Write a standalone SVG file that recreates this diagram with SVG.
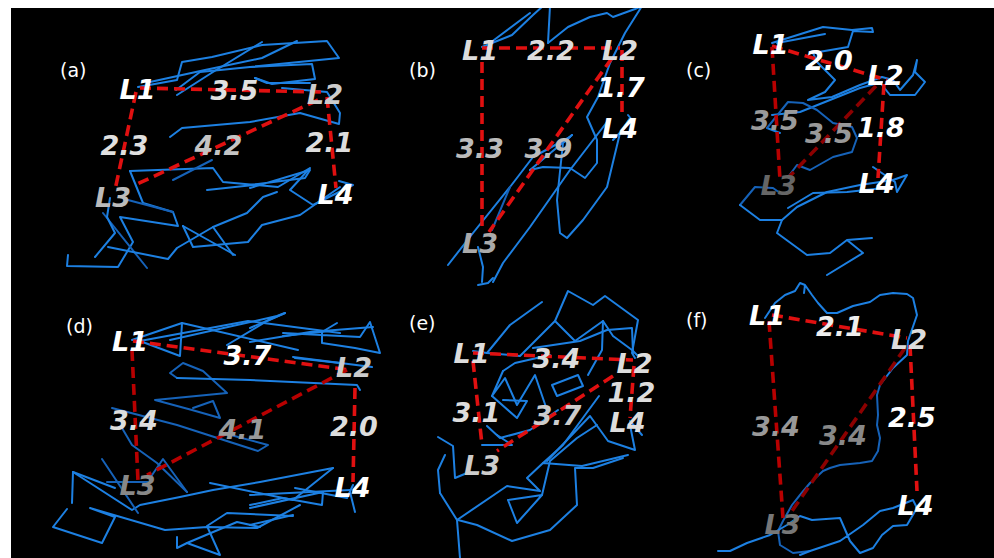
<svg xmlns="http://www.w3.org/2000/svg" width="994" height="558" viewBox="0 0 994 558">
<style>
.tr{fill:none;stroke:#1d80e2;stroke-width:2;stroke-linejoin:round;stroke-linecap:round}
.dk{stroke:#1662b8}
.dist{fill:none;stroke:#e01010;stroke-width:3.6;stroke-dasharray:11 6}
.d2{stroke:#b80000}
.d3{stroke:#8c0000}
.lab{font-family:"DejaVu Sans","Liberation Sans",sans-serif;font-weight:bold;font-style:italic;font-size:27px;text-anchor:middle}
.pl{font-family:"DejaVu Sans","Liberation Sans",sans-serif;font-size:19px;fill:#ffffff}
</style>
<rect x="0" y="0" width="994" height="558" fill="#000000"/>

<!-- Panel (a) -->
<g id="panel-a">
<text class="pl" x="60" y="77">(a)</text>
<g id="a-trace">
<polyline class="tr" points="138,87 177,80 182,62 212,57 262,45 327,41 339,58 250,67 200,72 176,90"/>
<polyline class="tr" points="177,95 213,72 262,42"/>
<polyline class="tr" points="150,82 205,70 262,58 297,41"/>
<polyline class="tr" points="255,78 272,84 315,79 312,64 250,67"/>
<polyline class="tr" points="170,137 182,128 250,122 300,113 339,124 340,113 327,92 282,88"/>
<polyline class="tr" points="255,78 267,83 310,83"/>
<polyline class="tr" points="130,171 143,203 173,212 178,226 120,217 133,242 118,267 67,266 68,255"/>
<polyline class="tr" points="130,171 213,168 223,182 278,187 310,168 290,190 313,205 353,185 339,181"/>
<polyline class="tr dk" points="173,180 212,160"/>
<polyline class="tr" points="183,226 193,247 248,242 262,225 300,215 340,187"/>
<polyline class="tr" points="183,226 235,255"/>
<polyline class="tr dk" points="103,213 147,268"/>
<polyline class="tr" points="110,198 107,217 115,233 95,257"/>
<polyline class="tr" points="108,247 168,259 177,248 213,227 247,213 263,197 277,192"/>
<polyline class="tr dk" points="128,200 173,212"/>
<polyline class="tr" points="207,190 262,184"/>
<polyline class="tr" points="250,188 310,170 305,178 250,185"/>
<polyline class="tr" points="233,255 213,227"/>
</g>
<g id="a-distances">
<line class="dist" x1="140" y1="88" x2="322" y2="92"/>
<line class="dist" x1="136" y1="92" x2="115" y2="190"/>
<line class="dist" x1="318" y1="100" x2="133" y2="186"/>
<line class="dist" x1="327" y1="97" x2="336" y2="188"/>
</g>
<g id="a-labels">
<text class="lab" x="137.5" y="99" fill="#ffffff">L1</text>
<text class="lab" x="234.5" y="100" fill="#e0e0e0">3.5</text>
<text class="lab" x="325" y="104" fill="#cccccc">L2</text>
<text class="lab" x="124.5" y="155" fill="#e0e0e0">2.3</text>
<text class="lab" x="218.5" y="155" fill="#c4c4c4">4.2</text>
<text class="lab" x="329.5" y="152" fill="#dddddd">2.1</text>
<text class="lab" x="113" y="207" fill="#bbbbbb">L3</text>
<text class="lab" x="335.5" y="204" fill="#ffffff">L4</text>
</g>
</g>

<!-- Panel (b) -->
<g id="panel-b">
<text class="pl" x="409" y="77">(b)</text>
<g id="b-trace">
<polyline class="tr" points="482,47 512,35 533,15 543,6"/>
<polyline class="tr" points="490,43 530,13"/>
<polyline class="tr" points="548,43 550,6"/>
<polyline class="tr" points="548,43 568,27 590,17 607,13 613,17 635,9 642,6 625,33 610,63 598,97 587,117 597,140 597,163 585,178 570,168 543,167 530,170"/>
<polyline class="tr" points="572,135 530,170"/>
<polyline class="tr" points="572,135 563,143 557,200 560,233 567,238 583,220 607,187 620,133 630,118"/>
<polyline class="tr" points="448,265 473,233 510,187 533,157 570,137"/>
<polyline class="tr dk" points="492,230 510,187"/>
<polyline class="tr" points="607,122 570,170 530,227 503,263 493,282"/>
<polyline class="tr" points="478,247 483,267 482,282"/>
<polyline class="tr" points="628,115 632,120 613,140"/>
</g>
<g id="b-distances">
<line class="dist" x1="482" y1="48" x2="620" y2="48"/>
<line class="dist" x1="482" y1="62" x2="482" y2="232"/>
<line class="dist" x1="612" y1="58" x2="489" y2="232"/>
<line class="dist" x1="622" y1="50" x2="622" y2="118"/>
</g>
<g id="b-labels">
<text class="lab" x="480" y="60" fill="#dddddd">L1</text>
<text class="lab" x="551" y="60" fill="#dddddd">2.2</text>
<text class="lab" x="620" y="60" fill="#dddddd">L2</text>
<text class="lab" x="621" y="97" fill="#ffffff">1.7</text>
<text class="lab" x="620" y="138" fill="#ffffff">L4</text>
<text class="lab" x="480" y="158" fill="#bbbbbb">3.3</text>
<text class="lab" x="548.5" y="158" fill="#bbbbbb">3.9</text>
<text class="lab" x="480" y="253" fill="#aaaaaa">L3</text>
</g>
</g>

<!-- Panel (c) -->
<g id="panel-c">
<text class="pl" x="686" y="77">(c)</text>
<g id="c-trace">
<polyline class="tr" points="772,43 823,27 852,30 872,28 873,32 853,31 848,47 813,53 817,62 835,80 825,92 808,100 832,97 860,85 882,77 893,80 900,90 913,75 917,60 915,72 925,82 915,95 890,95 882,85"/>
<polyline class="tr" points="777,43 825,34"/>
<polyline class="tr" points="772,115 800,112 860,88 882,82"/>
<polyline class="tr" points="767,128 780,133"/>
<polyline class="tr dk" points="767,128 788,102 803,103 817,110 833,123 852,127 857,138 852,152 833,157 810,170 797,165 788,177"/>
<polyline class="tr dk" points="740,205 755,187 773,188 780,193"/>
<polyline class="tr" points="740,205 760,220 782,220 797,207 827,192 860,185 893,180 907,175 897,192 895,182 873,167"/>
<polyline class="tr" points="782,220 777,233 807,255 830,253 847,240 872,238 847,240 863,253 827,275"/>
<polyline class="tr" points="788,208 813,193 847,192 893,187"/>
</g>
<g id="c-distances">
<line class="dist" x1="772" y1="46" x2="887" y2="80"/>
<line class="dist d2" x1="772" y1="47" x2="780" y2="180"/>
<line class="dist d3" x1="876" y1="86" x2="788" y2="178"/>
<line class="dist" x1="884" y1="84" x2="878" y2="178"/>
</g>
<g id="c-labels">
<text class="lab" x="770.5" y="54" fill="#ffffff">L1</text>
<text class="lab" x="829" y="70" fill="#ffffff">2.0</text>
<text class="lab" x="885.5" y="85" fill="#ffffff">L2</text>
<text class="lab" x="775" y="130" fill="#9a9a9a">3.5</text>
<text class="lab" x="829" y="143" fill="#999999">3.5</text>
<text class="lab" x="881" y="137" fill="#ffffff">1.8</text>
<text class="lab" x="778.5" y="195" fill="#666666">L3</text>
<text class="lab" x="876.5" y="193" fill="#ffffff">L4</text>
</g>
</g>

<!-- Panel (d) -->
<g id="panel-d">
<text class="pl" x="66" y="333">(d)</text>
<g id="d-trace">
<polyline class="tr" points="132,340 182,323 180,356 140,341 248,321 340,333"/>
<polyline class="tr" points="170,340 277,316 285,313 250,328"/>
<polyline class="tr" points="182,323 298,350"/>
<polyline class="tr" points="227,345 267,321 285,313"/>
<polyline class="tr" points="283,336 330,331"/>
<polyline class="tr" points="250,342 310,332 373,327"/>
<polyline class="tr" points="337,323 322,332 322,343 355,348 380,353 370,322 360,337 283,333"/>
<polyline class="tr" points="293,357 372,367"/>
<polyline class="tr" points="295,358 340,363"/>
<polyline class="tr dk" points="177,378 170,373 183,363 203,371 227,393 155,400 192,410 220,418 213,401 193,408"/>
<polyline class="tr" points="177,378 250,380 357,385 360,390"/>
<polyline class="tr dk" points="112,408 177,425 258,451 268,445 223,433"/>
<polyline class="tr" points="73,472 72,503"/>
<polyline class="tr" points="73,472 132,510 140,505 180,497 213,490 260,482 333,468"/>
<polyline class="tr" points="73,472 115,488"/>
<polyline class="tr dk" points="102,459 138,513"/>
<polyline class="tr dk" points="107,482 150,482"/>
<polyline class="tr dk" points="150,478 163,459 187,492"/>
<polyline class="tr dk" points="122,428 132,445 157,463 187,492"/>
<polyline class="tr" points="67,509 53,527 102,543 115,517 90,508 165,530 207,527 257,528 300,505"/>
<polyline class="tr" points="210,483 293,500 333,468"/>
<polyline class="tr" points="177,537 177,548 187,543 220,555 207,526 227,513 293,516"/>
<polyline class="tr" points="187,543 237,522 260,527"/>
<polyline class="tr" points="295,488 347,498 353,485"/>
<polyline class="tr" points="250,508 323,492 322,505 283,498 250,505"/>
<polyline class="tr" points="250,495 350,490"/>
<polyline class="tr" points="350,492 355,512"/>
<polyline class="tr" points="293,515 250,525"/>
</g>
<g id="d-distances">
<line class="dist" x1="133" y1="341" x2="350" y2="370"/>
<line class="dist d2" x1="132" y1="350" x2="138" y2="481"/>
<line class="dist d2" x1="347" y1="370" x2="147" y2="475"/>
<line class="dist" x1="355" y1="388" x2="353" y2="482"/>
</g>
<g id="d-labels">
<text class="lab" x="130" y="351" fill="#ffffff">L1</text>
<text class="lab" x="247.5" y="365" fill="#ffffff">3.7</text>
<text class="lab" x="354" y="377" fill="#cccccc">L2</text>
<text class="lab" x="134" y="430" fill="#dddddd">3.4</text>
<text class="lab" x="242.5" y="439" fill="#999999">4.1</text>
<text class="lab" x="354" y="436" fill="#dddddd">2.0</text>
<text class="lab" x="137.5" y="495" fill="#888888">L3</text>
<text class="lab" x="352.5" y="497" fill="#ffffff">L4</text>
</g>
</g>

<!-- Panel (e) -->
<g id="panel-e">
<text class="pl" x="409" y="330">(e)</text>
<g id="e-trace">
<polyline class="tr" points="473,351 487,353 510,325 542,302"/>
<polyline class="tr" points="487,353 520,356 555,321 568,291 593,305 605,296 638,320 632,353 635,358"/>
<polyline class="tr" points="555,321 575,341 603,321 602,350 588,375"/>
<polyline class="tr" points="533,348 580,341 607,330 632,328 633,353"/>
<polyline class="tr" points="603,321 613,336 632,350 637,355"/>
<polyline class="tr" points="503,371 515,363 550,355"/>
<polyline class="tr" points="503,371 492,396 505,378 517,405 535,375 548,413"/>
<polyline class="tr" points="492,396 517,418 527,401 503,400"/>
<polyline class="tr" points="552,385 557,396 583,386 578,375 552,385"/>
<polyline class="tr" points="487,426 500,438 530,430 558,410"/>
<polyline class="tr" points="482,445 512,445 497,435"/>
<polyline class="tr" points="438,437 453,446 455,478 467,473"/>
<polyline class="tr" points="440,493 457,520 507,486 540,491 527,478 543,463 582,466 628,455"/>
<polyline class="tr" points="457,520 460,558"/>
<polyline class="tr" points="458,520 477,525 512,541 550,530 577,505 575,468 593,468 623,458"/>
<polyline class="tr" points="508,500 517,523 542,495 508,500"/>
<polyline class="tr" points="542,495 550,461 577,438 597,425"/>
<polyline class="tr" points="547,461 590,416 608,441 635,450 630,425"/>
<polyline class="tr" points="599,396 563,445 543,463"/>
<polyline class="tr" points="630,421 642,435"/>
<polyline class="tr" points="478,285 488,283 493,278"/>
<polyline class="tr" points="440,493 438,470 445,455"/>
</g>
<g id="e-distances">
<line class="dist" x1="473" y1="353" x2="633" y2="360"/>
<line class="dist" x1="473" y1="361" x2="482" y2="445"/>
<line class="dist" x1="613" y1="376" x2="497" y2="451"/>
<line class="dist" x1="634" y1="366" x2="630" y2="418"/>
</g>
<g id="e-labels">
<text class="lab" x="471.5" y="363" fill="#dddddd">L1</text>
<text class="lab" x="556.5" y="368" fill="#dddddd">3.4</text>
<text class="lab" x="634.5" y="373" fill="#dddddd">L2</text>
<text class="lab" x="631.5" y="402" fill="#dddddd">1.2</text>
<text class="lab" x="476.5" y="422" fill="#dddddd">3.1</text>
<text class="lab" x="557.5" y="425" fill="#cccccc">3.7</text>
<text class="lab" x="627.5" y="432" fill="#dddddd">L4</text>
<text class="lab" x="482" y="475" fill="#cccccc">L3</text>
</g>
</g>

<!-- Panel (f) -->
<g id="panel-f">
<text class="pl" x="686" y="327">(f)</text>
<g id="f-trace">
<polyline class="tr" points="765,318 775,303 785,295 795,291 800,283 805,285 804,293 805,285 812,295 818,303 827,313 837,313 853,306 870,302 880,295 893,293 907,294 913,298 917,315 908,341 907,355 893,368 880,385"/>
<polyline class="tr dk" points="880,385 877,395 878,415 877,425 880,438 878,451 872,461 860,463 840,465 830,468 823,471 810,483 800,495 792,505 783,521 778,531 780,545 793,553 810,551"/>
<polyline class="tr" points="718,551 730,551 747,543 770,535 787,525 800,516 812,520 840,518 850,541 860,553 873,548 882,535 893,526 907,525 917,508 913,500 893,508 880,511 863,525 840,541 810,551 800,555"/>
</g>
<g id="f-distances">
<line class="dist" x1="772" y1="315" x2="907" y2="338"/>
<line class="dist d2" x1="769" y1="321" x2="783" y2="518"/>
<line class="dist d3" x1="905" y1="348" x2="792" y2="511"/>
<line class="dist" x1="910" y1="345" x2="917" y2="491"/>
</g>
<g id="f-labels">
<text class="lab" x="767" y="325" fill="#ffffff">L1</text>
<text class="lab" x="840" y="336" fill="#eeeeee">2.1</text>
<text class="lab" x="909" y="349" fill="#dddddd">L2</text>
<text class="lab" x="776" y="436" fill="#999999">3.4</text>
<text class="lab" x="843" y="445" fill="#888888">3.4</text>
<text class="lab" x="912" y="427" fill="#ffffff">2.5</text>
<text class="lab" x="782.5" y="534" fill="#777777">L3</text>
<text class="lab" x="915.5" y="515" fill="#ffffff">L4</text>
</g>
</g>

<rect x="0" y="0" width="994" height="8" fill="#ffffff"/>
<rect x="0" y="0" width="11" height="558" fill="#ffffff"/>
</svg>
